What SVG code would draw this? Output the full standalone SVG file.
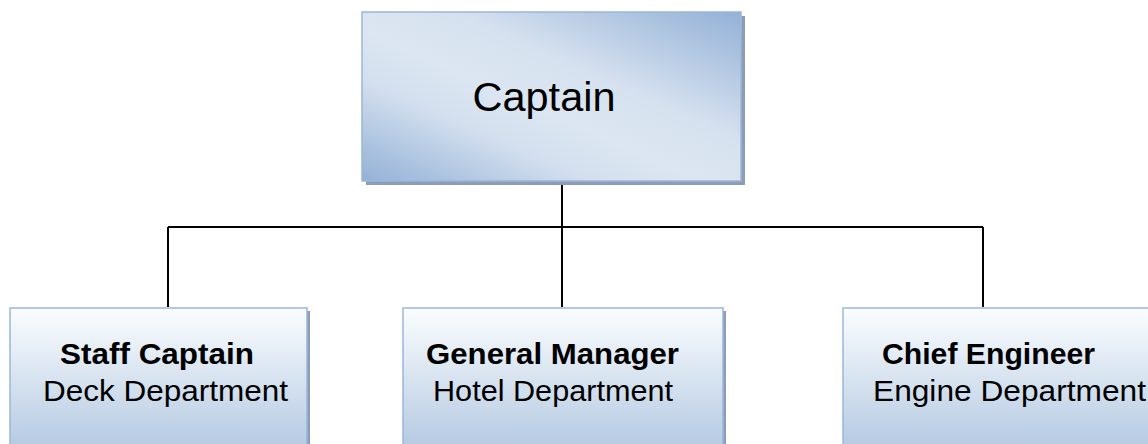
<svg xmlns="http://www.w3.org/2000/svg" width="1148" height="444" viewBox="0 0 1148 444">
<defs>
<linearGradient id="gTop" x1="0" y1="1" x2="1" y2="0">
<stop offset="0" stop-color="#93b1d6"/>
<stop offset="0.3" stop-color="#d3dfee"/>
<stop offset="0.45" stop-color="#dce6f2"/>
<stop offset="0.62" stop-color="#d6e1ef"/>
<stop offset="1" stop-color="#93b1d6"/>
</linearGradient>
<linearGradient id="gBot" gradientUnits="userSpaceOnUse" x1="0" y1="308" x2="0" y2="444">
<stop offset="0" stop-color="#fbfdfe"/>
<stop offset="1" stop-color="#b7cbe3"/>
</linearGradient>
</defs>
<style>
.box{stroke:#9bb7da;stroke-width:1.5}
.shadow{fill:#8d9db5}
.conn{stroke:#000;stroke-width:2;fill:none}
text{font-family:"Liberation Sans",Arial,sans-serif;fill:#000}
.t{font-size:30px}
.b{font-weight:bold}
</style>
<g id="connectors">
<path class="conn" d="M562 182V307M168 227H983M168 227V307M983 227V307"/>
</g>
<g id="captain">
<rect class="shadow" x="366" y="16" width="379" height="169"/>
<rect class="box" x="362" y="12" width="379" height="169" fill="url(#gTop)"/>
<text x="544" y="111" font-size="41" text-anchor="middle" textLength="143" lengthAdjust="spacingAndGlyphs">Captain</text>
</g>
<g id="staff-captain">
<rect class="shadow" x="13" y="311" width="297" height="140"/>
<rect class="box" x="10" y="308" width="297" height="140" fill="url(#gBot)"/>
<text class="t b" x="60" y="364" textLength="194" lengthAdjust="spacingAndGlyphs">Staff Captain</text>
<text class="t" x="43" y="401" textLength="245" lengthAdjust="spacingAndGlyphs">Deck Department</text>
</g>
<g id="general-manager">
<rect class="shadow" x="406" y="311" width="320" height="140"/>
<rect class="box" x="403" y="308" width="320" height="140" fill="url(#gBot)"/>
<text class="t b" x="426" y="364" textLength="253" lengthAdjust="spacingAndGlyphs">General Manager</text>
<text class="t" x="433" y="401" textLength="240" lengthAdjust="spacingAndGlyphs">Hotel Department</text>
</g>
<g id="chief-engineer">
<rect class="shadow" x="846" y="311" width="320" height="140"/>
<rect class="box" x="843" y="308" width="320" height="140" fill="url(#gBot)"/>
<text class="t b" x="882" y="364" textLength="213" lengthAdjust="spacingAndGlyphs">Chief Engineer</text>
<text class="t" x="873" y="401" textLength="273" lengthAdjust="spacingAndGlyphs">Engine Department</text>
</g>
</svg>
